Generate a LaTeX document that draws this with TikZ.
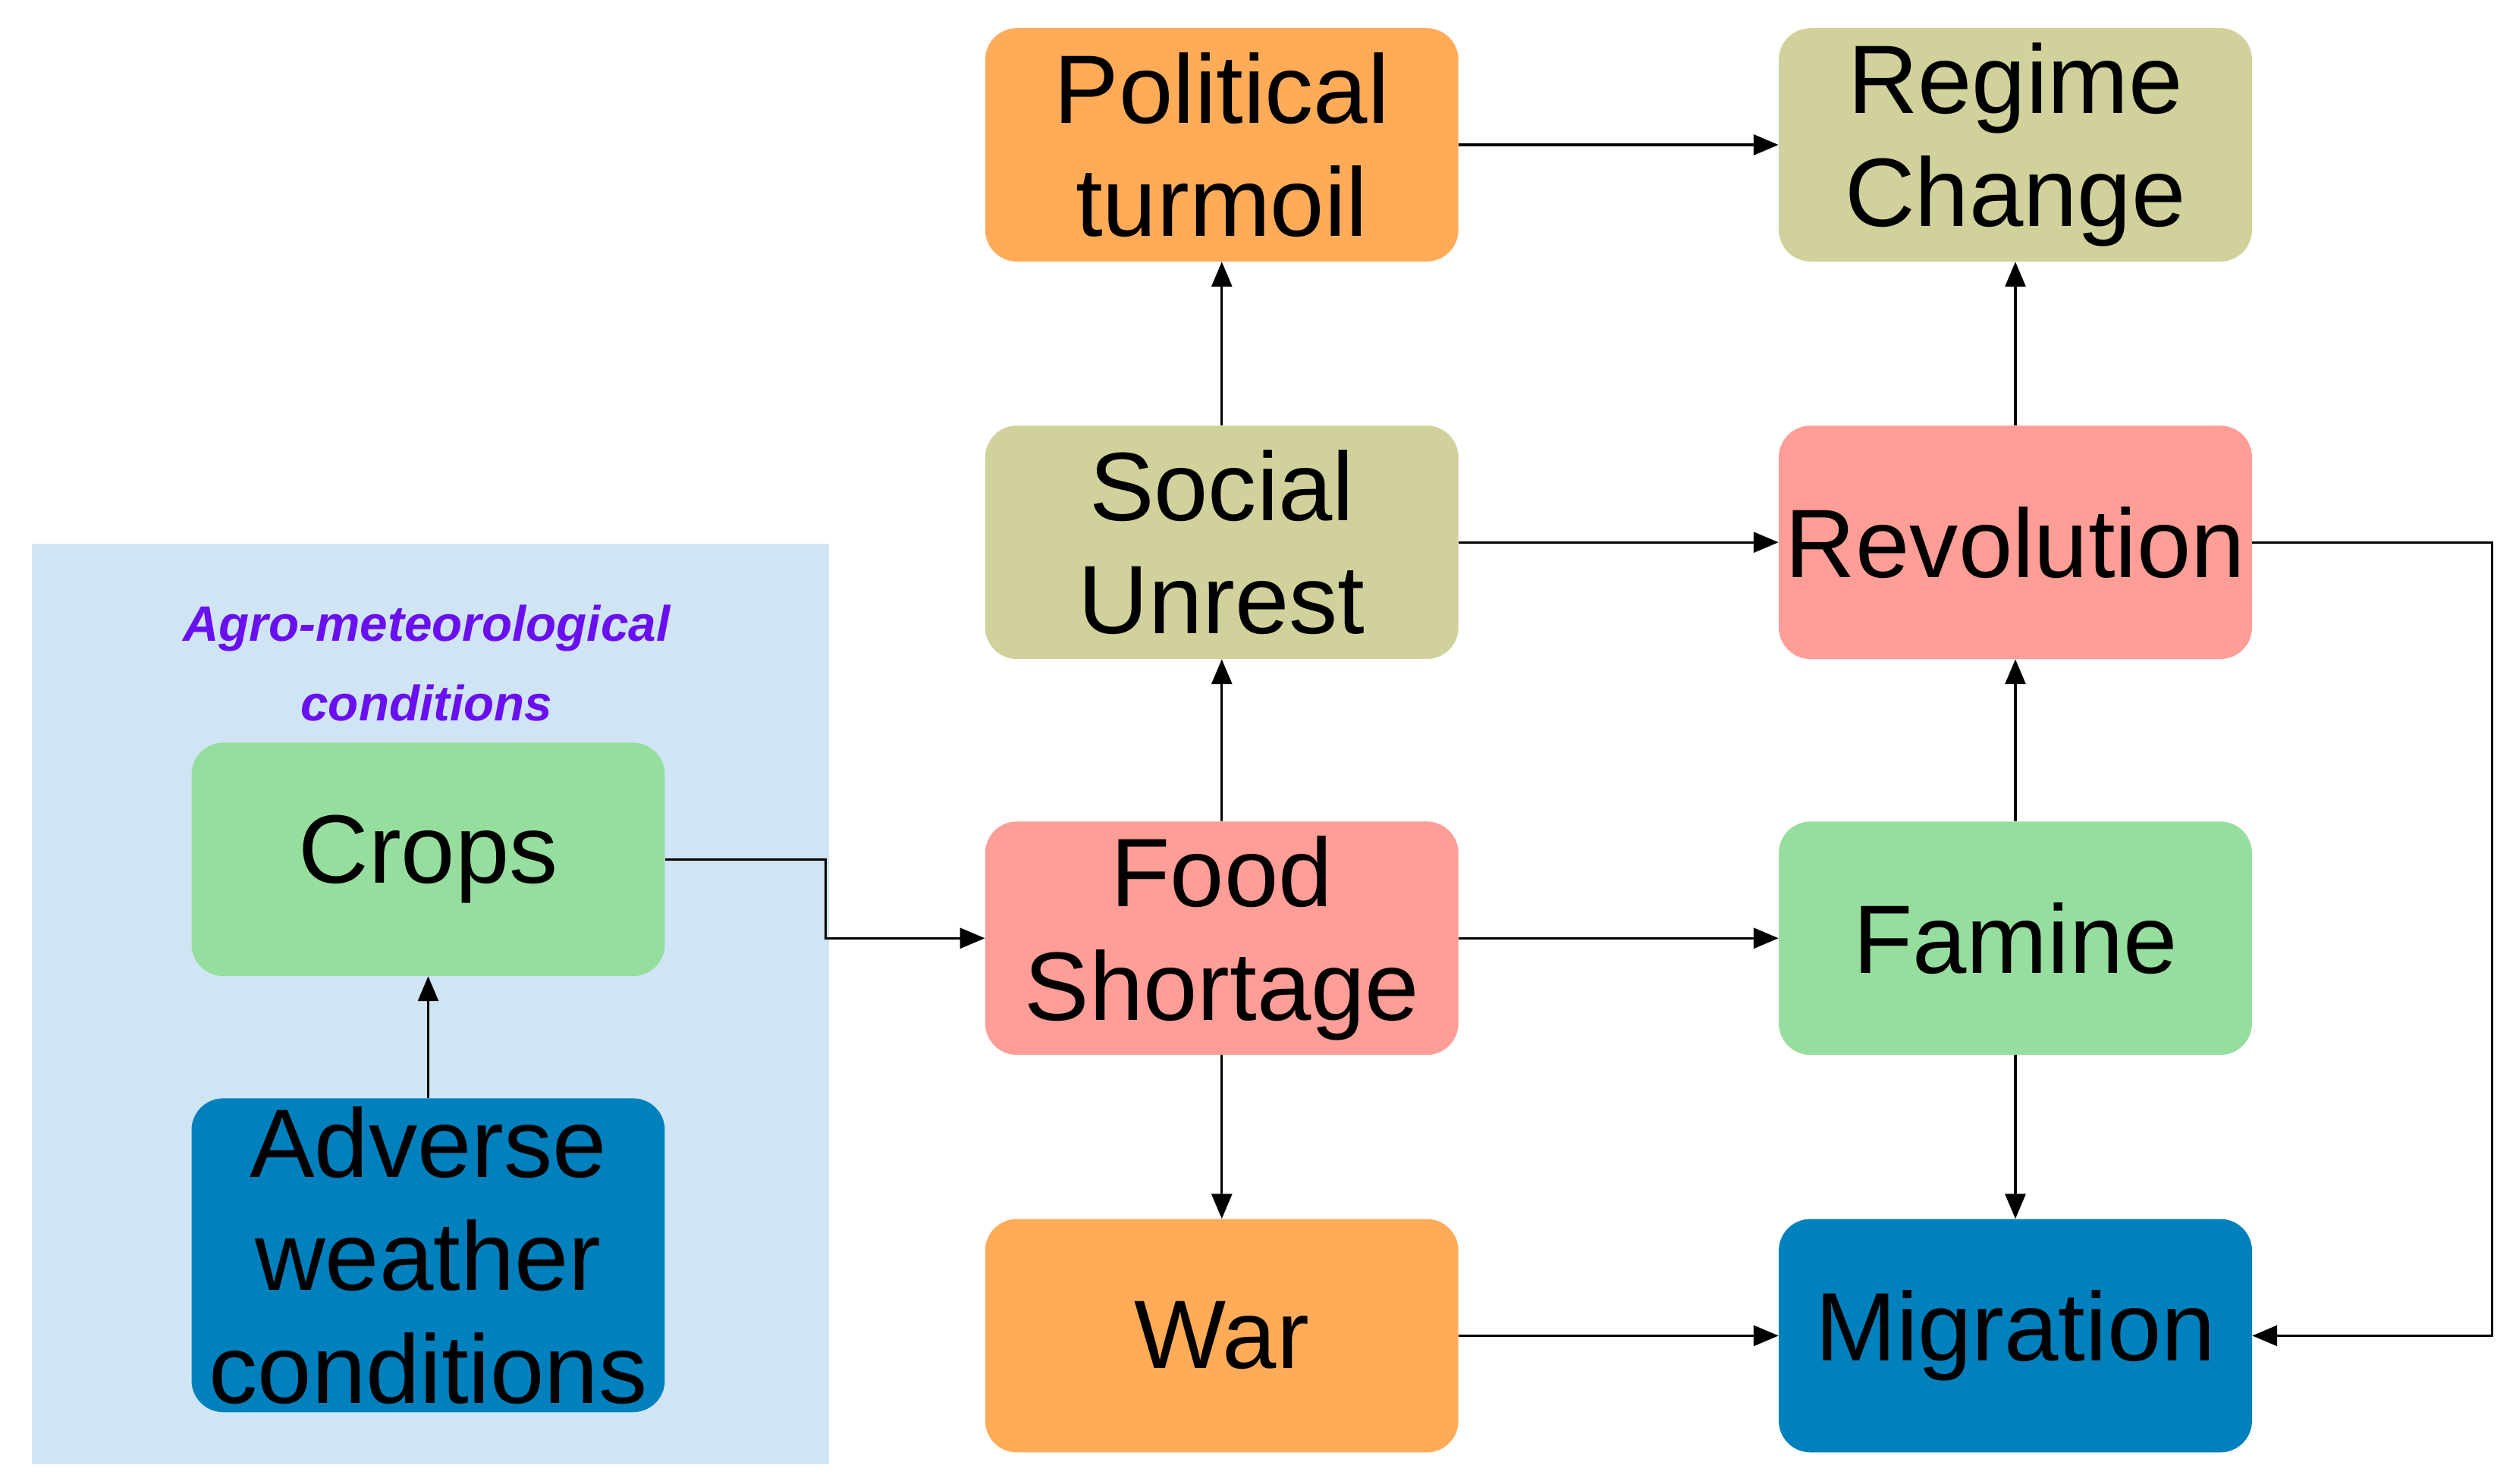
\documentclass[tikz,border=0pt]{standalone}
\usepackage{fontspec}
\setmainfont{Liberation Sans}
\usetikzlibrary{arrows.meta}
\definecolor{cor}{HTML}{FFAB58}
\definecolor{col}{HTML}{D1D19C}
\definecolor{cpk}{HTML}{FF9D97}
\definecolor{cgr}{HTML}{96DE9E}
\definecolor{cbl}{HTML}{0080BC}
\definecolor{cbg}{HTML}{D0E5F3}
\definecolor{cpu}{HTML}{6A0FF0}
\begin{document}
\begin{tikzpicture}[x=0.05cm,y=-0.05cm,
 box/.style={rounded corners=28pt,minimum width=294*0.05cm,minimum height=145*0.05cm,inner sep=0pt,align=center,font=\fontsize{86}{100}\selectfont},
 arr/.style={line width=2.2pt,-{Triangle[length=22pt,width=18pt]}}]
\useasboundingbox (0,0) rectangle (1563,922);
\fill[cbg] (20,338) rectangle (515,910);
\node[font=\fontsize{44}{70}\selectfont\bfseries\itshape,text=cpu,align=center] (lab) at (265,412) {Agro-meteorological\\conditions};
\node[box,fill=cor] (pt) at (759,90) {Political\\turmoil};
\node[box,fill=col] (rc) at (1252,90) {Regime\\Change};
\node[box,fill=col] (su) at (759,337) {Social\\Unrest};
\node[box,fill=cpk] (rv) at (1252,337) {Revolution};
\node[box,fill=cpk] (fs) at (759,583) {Food\\Shortage};
\node[box,fill=cgr] (fm) at (1252,583) {Famine};
\node[box,fill=cor] (wr) at (759,830) {War};
\node[box,fill=cbl] (mg) at (1252,830) {Migration};
\node[box,fill=cgr] (cr) at (266,534) {Crops};
\node[box,fill=cbl,minimum height=195*0.05cm] (ad) at (266,780) {Adverse\\weather\\conditions};
\coordinate (c1) at (513,534);
\coordinate (c2) at (513,583);
\coordinate (r1) at (1548,337);
\coordinate (r2) at (1548,830);
\draw[arr] (ad) -- (cr);
\draw[arr] (cr.east) -- (c1) -- (c2) -- (fs.west);
\draw[arr] (pt) -- (rc);
\draw[arr] (su) -- (pt);
\draw[arr] (su) -- (rv);
\draw[arr] (rv) -- (rc);
\draw[arr] (fs) -- (su);
\draw[arr] (fs) -- (fm);
\draw[arr] (fs) -- (wr);
\draw[arr] (fm) -- (rv);
\draw[arr] (fm) -- (mg);
\draw[arr] (wr) -- (mg);
\draw[arr] (rv.east) -- (r1) -- (r2) -- (mg.east);
\end{tikzpicture}
\end{document}
